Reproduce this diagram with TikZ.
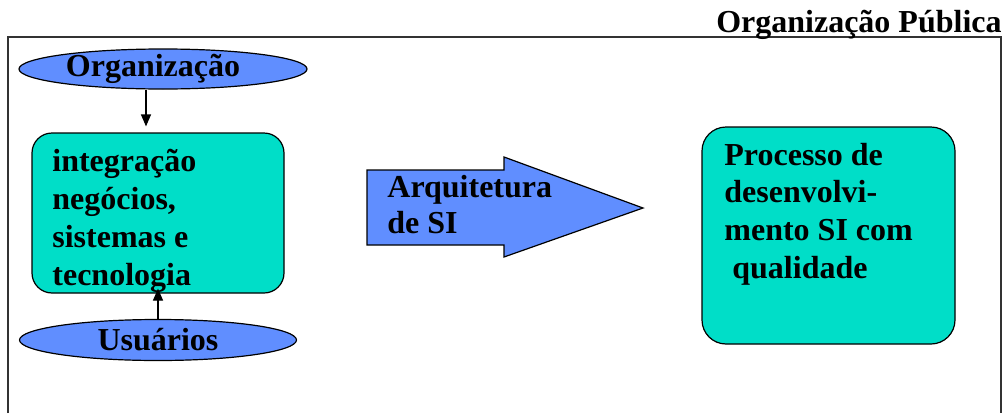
\documentclass[tikz,border=0pt]{standalone}
\usepackage{fontspec}
\setmainfont{Liberation Serif}
\usetikzlibrary{shapes.geometric,arrows.meta}
\definecolor{tealfill}{RGB}{0,222,200}
\definecolor{bluefill}{RGB}{96,142,255}
\begin{document}
\begin{tikzpicture}[x=0.5pt,y=-0.5pt,
  txt/.style={font=\bfseries\fontsize{16pt}{19pt}\selectfont, inner sep=0pt},
  oval/.style={ellipse, draw=black, line width=0.6pt, fill=bluefill, inner sep=0pt},
  rbox/.style={rectangle, draw=black, line width=0.6pt, fill=tealfill, inner sep=0pt},
  link/.style={line width=0.6pt, -{Triangle[width=5pt,length=6pt]}}]
\useasboundingbox (0,0) rectangle (1008,413);

% frame of the organisation
\draw[line width=0.8pt, draw=black!80] (8,413) -- (8,37) -- (1001,37) -- (1001,413);
\node[txt, anchor=base east] (title) at (1002,32) {Organização Pública};

% left column
\node[oval, minimum width=144pt, minimum height=20pt] (org) at (163,69) {};
\node[txt] (orgtxt) at (153,69) {Organização};
\node[rbox, rounded corners=10pt, minimum width=126pt, minimum height=80pt] (box1) at (158,213) {};
% multi-line texts are placed by the baseline of their last line
\node[txt, anchor=base west, align=left] (box1txt) at (52,285)
  {integração\\negócios,\\sistemas e\\tecnologia};
\node[oval, minimum width=138.5pt, minimum height=20.5pt] (usr) at (158,340) {};
\node[txt] (usrtxt) at (158,340) {Usuários};

\draw[link, shorten >=3pt] ([xshift=-8.5pt]org.south) -- ([xshift=-8.5pt]org.south |- box1.north);
\draw[link, shorten >=-2.5pt] (usr.north) -- (box1.south);

% block arrow in the middle
\draw[line width=0.6pt, fill=bluefill]
  (367,170) -- (504,170) -- (504,157) -- (643,208) -- (504,257) -- (504,245) -- (367,245) -- cycle;
\node[txt, font=\bfseries\fontsize{16pt}{18pt}\selectfont, anchor=base west, align=left] (arch) at (387,233) {Arquitetura\\de SI};

% right box
\node[rbox, rounded corners=12pt, minimum width=126.5pt, minimum height=108.5pt] (box2) at (828.5,235.5) {};
\node[txt, font=\bfseries\fontsize{16pt}{18.8pt}\selectfont, anchor=base west, align=left] (box2txt) at (724,278)
  {Processo de\\desenvolvi-\\mento SI com\\\ qualidade};
\end{tikzpicture}
\end{document}
